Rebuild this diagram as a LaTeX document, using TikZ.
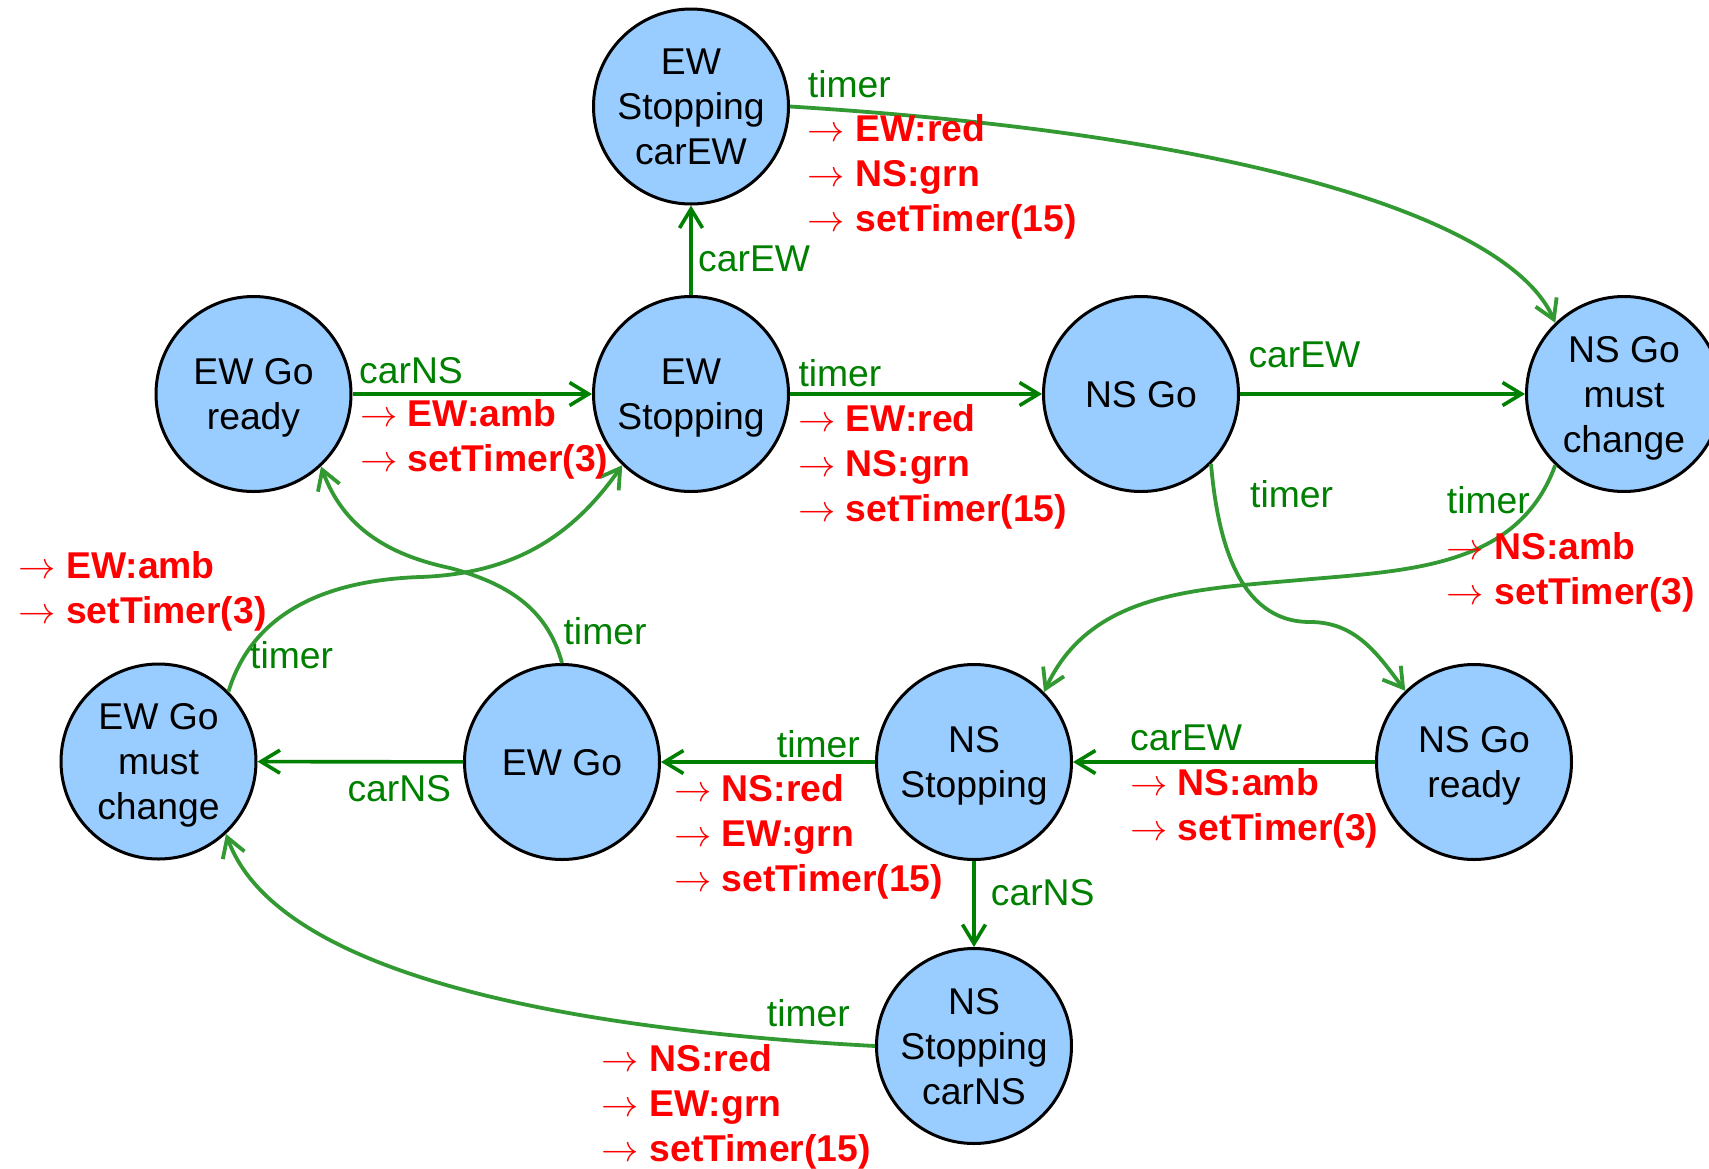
\RequirePackage{fix-cm}
\documentclass[tikz,border=0pt]{standalone}
\usepackage{fontspec}
\setmainfont{Liberation Sans}
\usetikzlibrary{arrows.meta}
\definecolor{nodeblue}{RGB}{153,204,255}
\definecolor{dgreen}{RGB}{0,128,0}
\definecolor{lgreen}{RGB}{51,153,51}
\newcommand{\actline}[1]{$\rightarrow$ \textbf{#1}}
\newcommand{\actblock}[1]{\begin{tabular}[t]{@{}l@{}}#1\end{tabular}}
\begin{document}
\begin{tikzpicture}[x=1pt,y=1pt,
  every node/.style={font=\fontsize{37.3}{45}\selectfont},
  state/.style={circle,draw=black,line width=3pt,fill=nodeblue,minimum size=195pt,inner sep=0pt,align=center,text depth=0pt},
  lbl/.style={text=dgreen,anchor=base west,inner sep=0pt},
  act/.style={text=red,anchor=base west,inner sep=0pt},
  tipend/.style={-{Straight Barb[length=19pt,width=23pt]}},
  sline/.style={draw=dgreen,line width=3.6pt,tipend},
  cline/.style={draw=lgreen,line width=3.8pt,tipend},
]
\useasboundingbox (0,0) rectangle (1709,-1168);

% states
\node[state] (EWSc) at (691,-106.5) {EW\\Stopping\\carEW};
\node[state] (EWGr) at (253.5,-394) {EW Go\\ready};
\node[state] (EWS) at (691,-394) {EW\\Stopping};
\node[state] (NSG) at (1141,-394) {NS Go};
\node[state] (NSGmc) at (1624,-394) {NS Go\\must\\change};
\node[state] (EWGmc) at (158.5,-761.5) {EW Go\\must\\change};
\node[state] (EWG) at (562,-762) {EW Go};
\node[state] (NSS) at (974,-762) {NS\\Stopping};
\node[state] (NSGr) at (1474,-762) {NS Go\\ready};
\node[state] (NSSc) at (974,-1046) {NS\\Stopping\\carNS};

% straight transitions
\draw[sline] (EWGr) -- (EWS);
\draw[sline] (EWS) -- (EWSc);
\draw[sline] (EWS) -- (NSG);
\draw[sline] (NSG) -- (NSGmc);
\draw[sline] (NSGr) -- (NSS);
\draw[sline] (NSS) -- (EWG);
\draw[sline] (EWG) -- (EWGmc);
\draw[sline] (NSS) -- (NSSc);

% curved transitions
\draw[cline] (EWSc.east) .. controls (1250,-135) and (1510,-220) .. (NSGmc.134);
\draw[cline] (NSG.-45) to[out=-85,in=180] (1310,-622) to[out=0,in=127] (NSGr.134);
\draw[cline] (NSGmc.-134) to[out=-110,in=5] (1300,-580) to[out=185,in=65] (NSS.45);
\draw[cline] (NSSc.west) .. controls (576,-1030) and (277,-977) .. (EWGmc.-47);
\draw[cline] (EWGmc.45) to[out=73,in=182] (420,-577) to[out=2,in=-125] (EWS.-134);
\draw[cline] (EWG.north) to[out=105,in=-15] (450,-568) to[out=168,in=-70] (EWGr.-47);

% labels
\node[lbl] (l1) at (359,-383) {carNS};
\node[act] (a1) at (360,-426.7) {\actblock{\actline{EW:amb}\\\actline{setTimer(3)}}};
\node[lbl] (l2) at (698,-271.7) {carEW};
\node[lbl] (l3) at (807.7,-97.7) {timer};
\node[act] (a3) at (807.7,-141.7) {\actblock{\actline{EW:red}\\\actline{NS:grn}\\\actline{setTimer(15)}}};
\node[lbl] (l4) at (798.3,-386.7) {timer};
\node[act] (a4) at (798,-431.7) {\actblock{\actline{EW:red}\\\actline{NS:grn}\\\actline{setTimer(15)}}};
\node[lbl] (l5) at (1248.3,-367.3) {carEW};
\node[lbl] (l6) at (1250,-507.7) {timer};
\node[lbl] (l7) at (1446.7,-513.3) {timer};
\node[act] (a7) at (1446.7,-559) {\actblock{\actline{NS:amb}\\\actline{setTimer(3)}}};
\node[lbl] (l8) at (1130,-750) {carEW};
\node[act] (a8) at (1130,-795.7) {\actblock{\actline{NS:amb}\\\actline{setTimer(3)}}};
\node[lbl] (l9) at (776.7,-757.3) {timer};
\node[act] (a9) at (674,-801.7) {\actblock{\actline{NS:red}\\\actline{EW:grn}\\\actline{setTimer(15)}}};
\node[lbl] (l10) at (347.3,-801.7) {carNS};
\node[lbl] (l11) at (990.7,-905) {carNS};
\node[lbl] (l12) at (766.7,-1026.7) {timer};
\node[act] (a12) at (601.7,-1071.7) {\actblock{\actline{NS:red}\\\actline{EW:grn}\\\actline{setTimer(15)}}};
\node[lbl] (l13) at (250,-668.3) {timer};
\node[act] (a13) at (18.3,-578.3) {\actblock{\actline{EW:amb}\\\actline{setTimer(3)}}};
\node[lbl] (l14) at (563.4,-644) {timer};
\end{tikzpicture}
\end{document}
